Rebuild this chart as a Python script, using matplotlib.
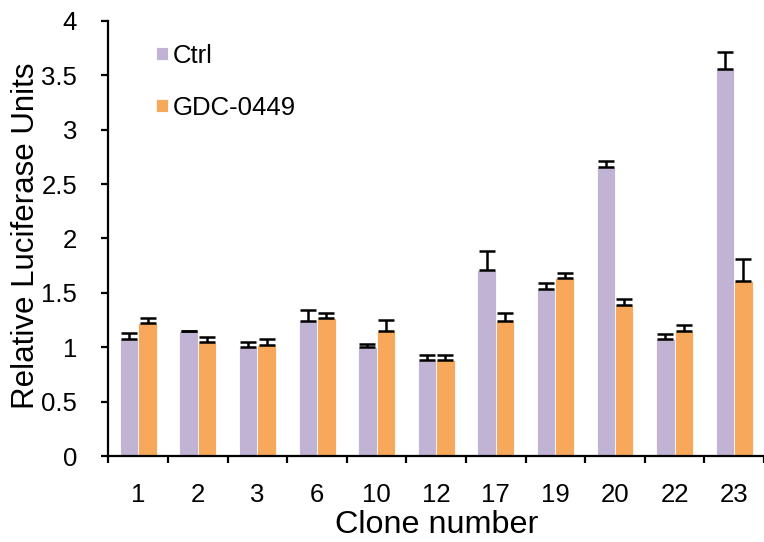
import numpy as np
import matplotlib.pyplot as plt

plt.rcParams['font.family'] = ['Liberation Sans', 'DejaVu Sans']

# data
clones = ['1', '2', '3', '6', '10', '12', '17', '19', '20', '22', '23']
ctrl = [1.08, 1.15, 1.00, 1.245, 1.00, 0.88, 1.71, 1.54, 2.66, 1.075, 3.56]
ctrl_err = [0.05, 0.005, 0.05, 0.10, 0.03, 0.05, 0.175, 0.05, 0.055, 0.05, 0.15]
gdc = [1.22, 1.05, 1.02, 1.27, 1.15, 0.88, 1.24, 1.635, 1.39, 1.15, 1.61]
gdc_err = [0.05, 0.05, 0.06, 0.05, 0.10, 0.05, 0.075, 0.05, 0.055, 0.055, 0.20]
yticks = [0, 0.5, 1, 1.5, 2, 2.5, 3, 3.5, 4]
ytick_labels = ['0', '0.5', '1', '1.5', '2', '2.5', '3', '3.5', '4']

ctrl_color = '#C1B3D3'
gdc_color = '#F8A85B'

fig = plt.figure(figsize=(7.64, 5.42), dpi=100)
ax = fig.add_axes([0.142, 0.158, 0.858, 0.804])

x = np.arange(len(clones))
w = 0.31
err_kw = dict(ecolor='black', elinewidth=1.8, capsize=6, capthick=1.8)
ax.bar(x - w / 2, ctrl, w, color=ctrl_color, edgecolor='white', linewidth=0.6,
       yerr=[np.zeros(len(ctrl)), ctrl_err], error_kw=err_kw, label='Ctrl')
ax.bar(x + w / 2, gdc, w, color=gdc_color, edgecolor='white', linewidth=0.6,
       yerr=[np.zeros(len(gdc)), gdc_err], error_kw=err_kw, label='GDC-0449')

ax.set_xlim(-0.5, len(clones) - 0.5)
ax.set_ylim(0, 4)

# category labels without tick marks, tick marks between categories
ax.set_xticks(x)
ax.set_xticklabels(clones, fontsize=18.5)
ax.tick_params(axis='x', which='major', length=0, pad=19)
ax.set_xticks(np.arange(-0.5, len(clones)), minor=True)
ax.tick_params(axis='x', which='minor', length=5, width=1.6, direction='out')

ax.set_yticks(yticks)
ax.set_yticklabels(ytick_labels, fontsize=18.5)
ax.tick_params(axis='y', length=5, width=1.6, direction='out', pad=17.5)

for side in ['top', 'right']:
    ax.spines[side].set_visible(False)
for side in ['left', 'bottom']:
    ax.spines[side].set_linewidth(1.6)

ax.set_xlabel('Clone number', fontsize=23.3)
ax.set_ylabel('Relative Luciferase Units', fontsize=22.5)
ax.xaxis.set_label_coords(0.5, -0.122)
ax.yaxis.set_label_coords(-0.103, 0.506)

ax.legend(loc='upper left', bbox_to_anchor=(0.057, 0.971), frameon=False,
          fontsize=18.5, handlelength=0.48, handleheight=0.42,
          handletextpad=0.18, labelspacing=1.1, borderaxespad=0)

plt.savefig('out.png', dpi=100)
